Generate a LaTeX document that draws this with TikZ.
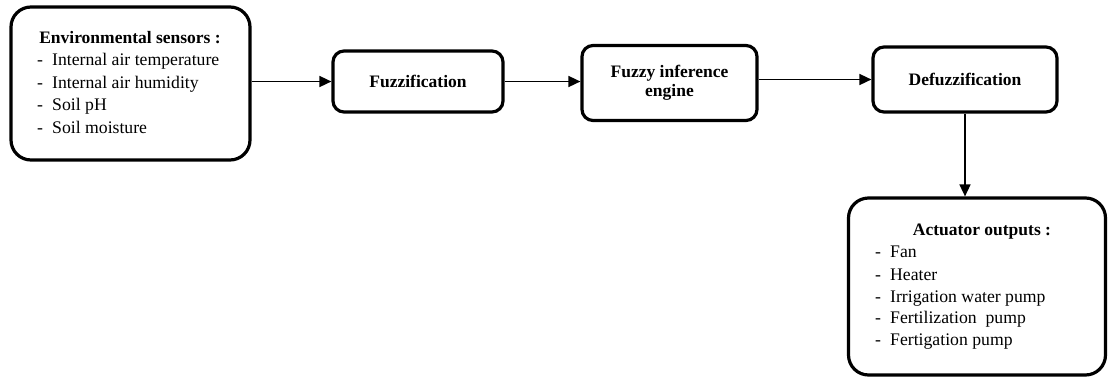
\documentclass[tikz,border=0pt]{standalone}
\usepackage{fontspec}
\setmainfont{Liberation Serif}
\usetikzlibrary{arrows.meta}
\tikzset{
  box/.style={draw=black, line width=3.2pt, fill=white, inner sep=0pt, font=\fontsize{17.5}{20}\selectfont\bfseries, align=center},
  bigbox/.style={box, rounded corners=20pt},
  smallbox/.style={box, rounded corners=11pt},
  item/.style={anchor=base west, inner sep=0pt, font=\fontsize{17.7}{21}\selectfont},
  title/.style={anchor=base, inner sep=0pt, font=\fontsize{17.5}{21}\selectfont\bfseries},
  flow/.style={line width=1.6pt, -{Triangle[length=12pt,width=11pt]}}
}
\newcommand{\dashitem}[1]{\makebox[15pt][l]{-}#1}
\begin{document}
\begin{tikzpicture}[x=1pt,y=-1pt]
\useasboundingbox (0,0) rectangle (1108,378);
% boxes
\node[bigbox, minimum width=239pt, minimum height=153pt] (env) at (130.5,83.5) {};
\node[smallbox, minimum width=170pt, minimum height=61pt] (fuzz) at (418,81.5) {Fuzzification};
\node[smallbox, minimum width=175pt, minimum height=75pt] (fie) at (669.5,83) {Fuzzy inference\\[-1pt] engine};
\node[smallbox, minimum width=184pt, minimum height=65pt] (defuzz) at (965,79.5) {Defuzzification};
\node[bigbox, minimum width=257pt, minimum height=177pt] (act) at (977,286.5) {};
% environmental sensors text
\node[title] (envt) at (130,43) {Environmental sensors :};
\node[item] (e1) at (37,65) {\dashitem{Internal air temperature}};
\node[item] (e2) at (37,88) {\dashitem{Internal air humidity}};
\node[item] (e3) at (37,110.5) {\dashitem{Soil pH}};
\node[item] (e4) at (37,133) {\dashitem{Soil moisture}};
% actuator text
\node[title] (actt) at (982,235) {Actuator outputs :};
\node[item] (a1) at (875,257) {\dashitem{Fan}};
\node[item] (a2) at (875,280) {\dashitem{Heater}};
\node[item] (a3) at (875,302) {\dashitem{Irrigation water pump}};
\node[item] (a4) at (875,323.5) {\dashitem{Fertilization\ \ pump}};
\node[item] (a5) at (875,345) {\dashitem{Fertigation pump}};
% connectors
\draw[flow] (env.east |- fuzz.west) -- (fuzz.west);
\draw[flow] (fuzz.east) -- (fuzz.east -| fie.west);
\draw[flow] (fie.east |- defuzz.west) -- (defuzz.west);
\draw[flow] (defuzz.south) -- (defuzz.south |- act.north);
\end{tikzpicture}
\end{document}
